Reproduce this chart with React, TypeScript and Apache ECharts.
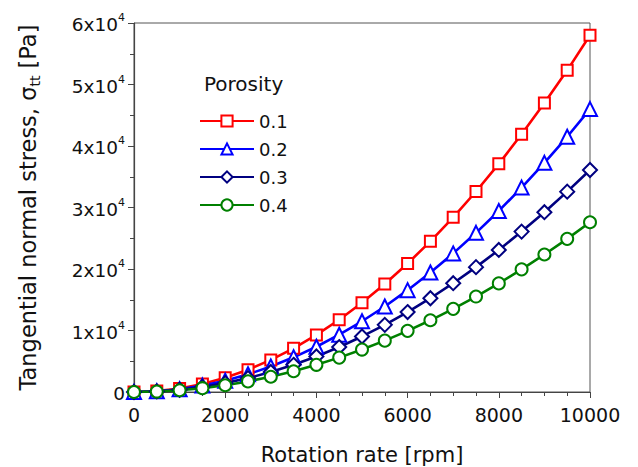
import React, { useEffect, useRef } from "react";
import * as echarts from "echarts";

const rpm = [0, 500, 1000, 1500, 2000, 2500, 3000, 3500, 4000, 4500, 5000, 5500, 6000, 6500, 7000, 7500, 8000, 8500, 9000, 9500, 10000];
const porosity01 = [0, 150, 580, 1300, 2320, 3620, 5220, 7100, 9280, 11750, 14500, 17550, 20900, 24500, 28400, 32600, 37100, 41900, 47000, 52300, 58000];
const porosity02 = [0, 120, 460, 1040, 1840, 2880, 4140, 5640, 7360, 9320, 11500, 13900, 16560, 19440, 22540, 25880, 29440, 33240, 37260, 41500, 46000];
const porosity03 = [0, 90, 360, 810, 1440, 2260, 3250, 4420, 5780, 7310, 9030, 10920, 13000, 15250, 17690, 20300, 23100, 26080, 29240, 32580, 36100];
const porosity04 = [0, 70, 280, 620, 1100, 1720, 2480, 3380, 4420, 5590, 6900, 8350, 9940, 11660, 13520, 15520, 17660, 19940, 22360, 24900, 27600];
const yTicks = [0, 10000, 20000, 30000, 40000, 50000, 60000];

const FONT = "DejaVu Sans, Liberation Sans, sans-serif";

export default function App() {
  const ref = useRef<HTMLDivElement>(null);
  useEffect(() => {
    if (!ref.current) return;
    const chart = echarts.init(ref.current, undefined, { renderer: "svg" });
    const mk = (name: string, data: number[], color: string, symbol: string, size: number) => ({
      name,
      type: "line",
      data: rpm.map((x, i) => [x, data[i]]),
      symbol,
      symbolSize: size,
      showAllSymbol: true,
      lineStyle: { color, width: 2.6 },
      itemStyle: { color: "#ffffff", borderColor: color, borderWidth: 2 },
      emphasis: { disabled: true },
    });
    chart.setOption({
      animation: false,
      textStyle: { fontFamily: FONT },
      title: {
        text: "Porosity",
        left: 199,
        top: 69,
        textStyle: { fontFamily: FONT, fontSize: 20, fontWeight: "normal", color: "#111" },
      },
      legend: {
        orient: "vertical",
        left: 194,
        top: 106,
        itemWidth: 54,
        itemHeight: 14,
        itemGap: 8,
        textStyle: { fontFamily: FONT, fontSize: 18, color: "#111", lineHeight: 20 },
        data: ["0.1", "0.2", "0.3", "0.4"],
      },
      grid: {
        left: 134,
        right: 48,
        top: 23,
        bottom: 75,
        show: true,
        borderColor: "#555",
        borderWidth: 1,
        containLabel: false,
        outerBoundsMode: "none",
      },
      xAxis: {
        type: "value",
        min: 0,
        max: 10000,
        interval: 2000,
        name: "Rotation rate [rpm]",
        nameLocation: "middle",
        nameGap: 52,
        nameTextStyle: { fontFamily: FONT, fontSize: 21, color: "#111" },
        axisLine: { show: true, lineStyle: { color: "#444", width: 1.2 } },
        axisTick: { show: true, length: 6, lineStyle: { color: "#444" } },
        minorTick: { show: true, splitNumber: 4, length: 4, lineStyle: { color: "#444" } },
        splitLine: { show: false },
        axisLabel: {
          fontFamily: FONT,
          fontSize: 19,
          color: "#111",
          margin: 13,
          formatter: (v: number) => String(v),
        },
      },
      yAxis: {
        type: "value",
        min: 0,
        max: 60000,
        interval: 10000,
        name: "{n|Tangential normal stress, σ}{s|tt}{n| [Pa]}",
        nameLocation: "middle",
        nameGap: 92,
        nameTextStyle: {
          fontFamily: FONT,
          color: "#111",
          rich: {
            n: { fontFamily: FONT, fontSize: 22.5, color: "#111", lineHeight: 28, verticalAlign: "middle" },
            s: { fontFamily: FONT, fontSize: 14, color: "#111", lineHeight: 28, verticalAlign: "bottom", padding: [10, 0, 0, 0] },
          },
        },
        axisLine: { show: true, lineStyle: { color: "#444", width: 1.2 } },
        axisTick: { show: true, length: 6, lineStyle: { color: "#444" } },
        minorTick: { show: true, splitNumber: 2, length: 4, lineStyle: { color: "#444" } },
        splitLine: { show: false },
        axisLabel: {
          margin: 9,
          formatter: (v: number) => {
            if (v === yTicks[0]) return "{b|0}";
            return `{b|${v / 10000}x10}{p|4}`;
          },
          rich: {
            b: { fontFamily: FONT, fontSize: 18.5, color: "#111", lineHeight: 22, verticalAlign: "bottom" },
            p: { fontFamily: FONT, fontSize: 11, color: "#111", lineHeight: 22, verticalAlign: "top", padding: [0, 0, 10, 0] },
          },
        },
      },
      series: [
        mk("0.1", porosity01, "#ff0000", "rect", 11),
        mk("0.2", porosity02, "#0000ff", "triangle", 14),
        mk("0.3", porosity03, "#000080", "diamond", 14),
        mk("0.4", porosity04, "#008000", "circle", 12),
      ],
    });
    return () => chart.dispose();
  }, []);
  return <div ref={ref} style={{ width: 638, height: 467, position: "absolute", left: 0, top: 0, background: "#fff" }} />;
}
